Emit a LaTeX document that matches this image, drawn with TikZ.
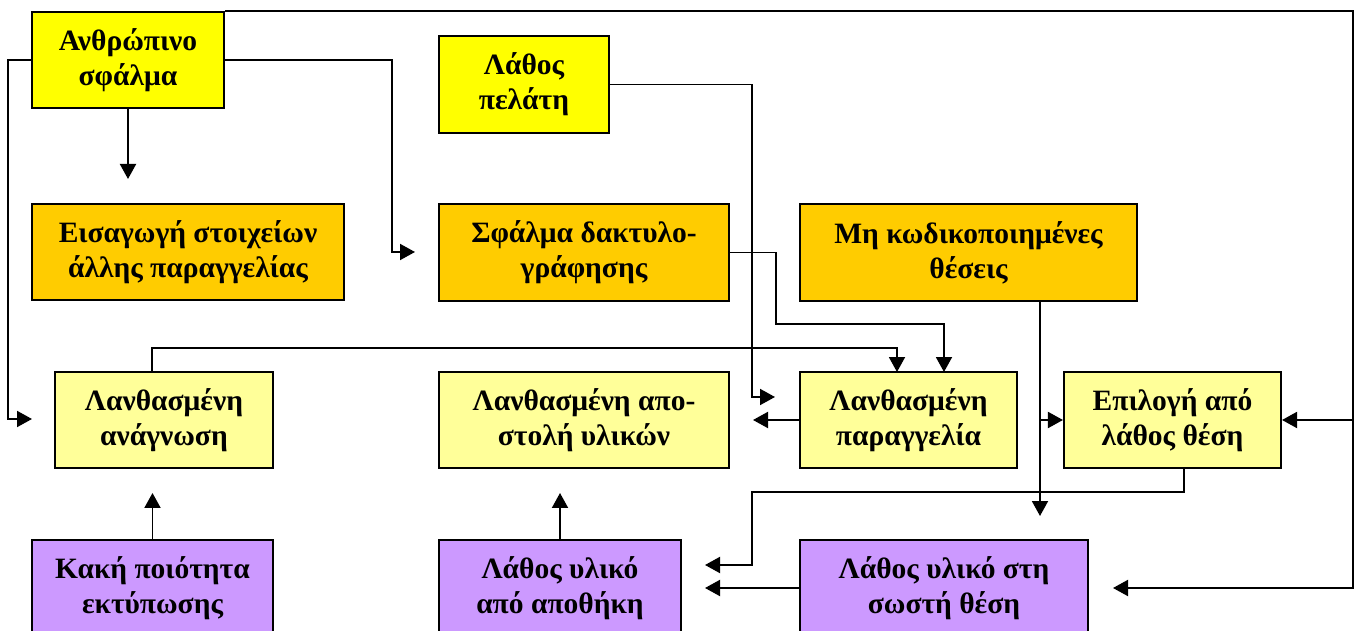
\documentclass[tikz,border=0pt]{standalone}
\usepackage{fontspec}
\setmainfont{Liberation Serif}
\usetikzlibrary{arrows.meta}
\definecolor{ylw}{HTML}{FFFF00}
\definecolor{org}{HTML}{FFCC00}
\definecolor{lyl}{HTML}{FFFF99}
\definecolor{prp}{HTML}{CC99FF}
\begin{document}
\begin{tikzpicture}[x=0.02cm,y=-0.02cm,
  box/.style={draw=black, line width=1.2pt, rectangle, inner sep=0pt, align=center,
    font=\fontsize{16.8}{20}\selectfont\bfseries},
  arr/.style={line width=1.1pt, -{Triangle[length=0.3cm,width=0.32cm]}}]
\useasboundingbox (0,0) rectangle (1357,631);
\fill[white] (0,0) rectangle (1357,631);

% causes, top row
\node[box, fill=ylw, minimum width=3.84cm, minimum height=1.92cm] (b1) at (128,60) {Ανθρώπινο\\σφάλμα};
\node[box, fill=ylw, minimum width=3.40cm, minimum height=1.94cm] (b2) at (524,84.5) {Λάθος\\πελάτη};

% second row
\node[box, fill=org, minimum width=6.24cm, minimum height=1.92cm] (b3) at (188,252) {Εισαγωγή στοιχείων\\άλλης παραγγελίας};
\node[box, fill=org, minimum width=5.80cm, minimum height=1.94cm] (b4) at (584,252.5) {Σφάλμα δακτυλο-\\γράφησης};
\node[box, fill=org, minimum width=6.74cm, minimum height=1.94cm] (b5) at (968.5,252.5) {Μη κωδικοποιημένες\\θέσεις};

% third row
\node[box, fill=lyl, minimum width=4.36cm, minimum height=1.92cm] (b6) at (164,420) {Λανθασμένη\\ανάγνωση};
\node[box, fill=lyl, minimum width=5.80cm, minimum height=1.92cm] (b7) at (584,420) {Λανθασμένη απο-\\στολή υλικών};
\node[box, fill=lyl, minimum width=4.34cm, minimum height=1.92cm] (b8) at (908.5,420) {Λανθασμένη\\παραγγελία};
\node[box, fill=lyl, minimum width=4.34cm, minimum height=1.92cm] (b9) at (1172.5,420) {Επιλογή από\\λάθος θέση};

% bottom row
\node[box, fill=prp, minimum width=4.82cm, minimum height=1.92cm] (b10) at (152.5,588) {Κακή ποιότητα\\εκτύπωσης};
\node[box, fill=prp, minimum width=4.84cm, minimum height=1.92cm] (b11) at (560,588) {Λάθος υλικό\\από αποθήκη};
\node[box, fill=prp, minimum width=5.76cm, minimum height=1.92cm] (b12) at (944,588) {Λάθος υλικό στη\\σωστή θέση};

% free arrow ends
\coordinate (t1) at (128,179);
\coordinate (t2) at (415,252);
\coordinate (t3) at (32,419);
\coordinate (t4) at (1113,588);
\coordinate (t5) at (775,397);
\coordinate (t6) at (944,372);
\coordinate (t7) at (897,372);
\coordinate (t8) at (1040,516);
\coordinate (t9) at (753,420);
\coordinate (t10) at (152.5,493);
\coordinate (t11) at (560,493);
\coordinate (t12) at (705,565);
\coordinate (t13) at (705,588);

% connectors
\draw[arr] (b1.south) -- (t1);
\draw[arr] (b1.east) -| (392,252) -- (t2);
\draw[arr] (b1.west) -| (8,419) -- (t3);
\draw[arr] (b1.north east) -| (1353,588) -- (t4);
\draw[arr] (1353,420) -- (b9.east);
\draw[arr] (b2.east) -| (752,397) -- (t5);
\draw[arr] (b4.east) -| (776,324) -| (t6);
\draw[arr] ([xshift=-0.24cm]b6.north) |- (897,348) -- (t7);
\draw[arr] ([xshift=1.43cm]b5.south) -- (t8);
\draw[arr] (1040,420) -- (b9.west);
\draw[arr] (b8.west) -- (t9);
\draw[arr] (b10.north) -- (t10);
\draw[arr] (b11.north) -- (t11);
\draw[arr] ([xshift=0.23cm]b9.south) |- (752,492) |- (t12);
\draw[arr] (b12.west) -- (t13);
\end{tikzpicture}
\end{document}
